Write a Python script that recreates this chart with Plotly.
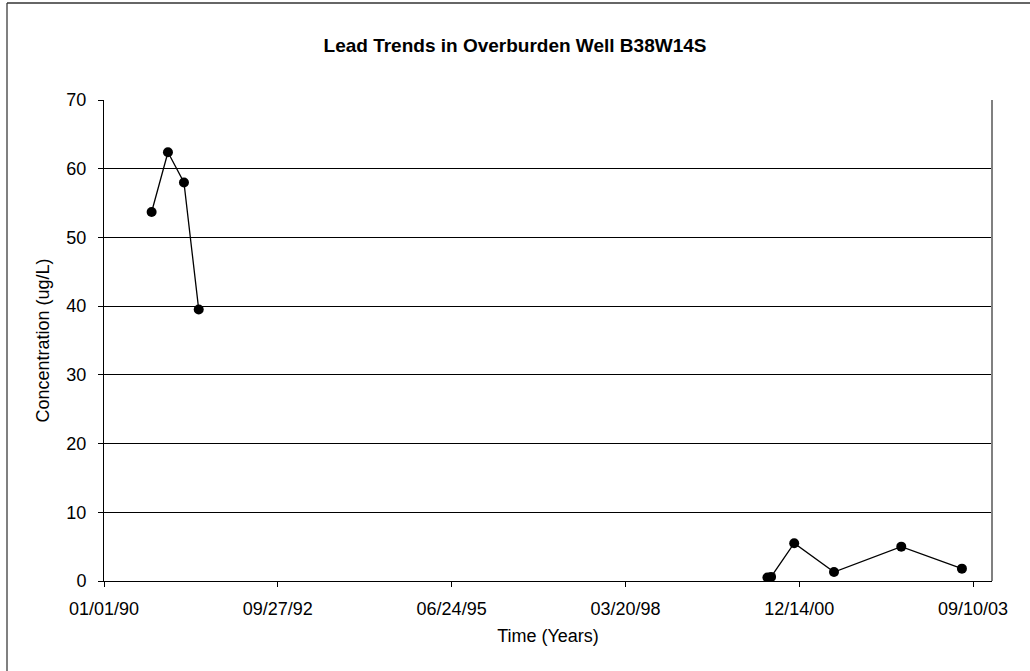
import plotly.graph_objects as go

# sample dates and lead concentrations (ug/L)
dates = ["1990-10-02", "1991-01-04", "1991-04-06", "1991-06-30",
         "2000-06-14", "2000-07-05", "2000-11-15", "2001-07-02",
         "2002-07-24", "2003-07-08"]
lead = [53.7, 62.4, 58.0, 39.5, 0.5, 0.6, 5.5, 1.3, 5.0, 1.8]

# gap between the two sampling periods is not connected
seg1_x, seg1_y = dates[:4], lead[:4]
seg2_x, seg2_y = dates[4:], lead[4:]

tick_vals = ["1990-01-01", "1992-09-27", "1995-06-24", "1998-03-20",
             "2000-12-14", "2003-09-10"]
tick_text = ["01/01/90", "09/27/92", "06/24/95", "03/20/98", "12/14/00", "09/10/03"]

font = "Liberation Sans, Arial, sans-serif"
style = dict(mode="lines+markers", line=dict(color="black", width=1.3),
             marker=dict(color="black", size=10), showlegend=False)

fig = go.Figure()
fig.add_trace(go.Scatter(x=seg1_x, y=seg1_y, **style))
fig.add_trace(go.Scatter(x=seg2_x, y=seg2_y, **style))

fig.update_layout(
    width=1030, height=671,
    margin=dict(l=104, r=38, t=100, b=90),
    paper_bgcolor="white", plot_bgcolor="white",
    font=dict(family=font, size=18, color="black"),
    title=dict(text="<b>Lead Trends in Overburden Well B38W14S</b>",
               x=0.5, xanchor="center", y=1 - 45 / 671, yanchor="middle",
               font=dict(size=19)),
    xaxis=dict(type="date", range=["1990-01-01", "2003-12-28"],
               tickvals=tick_vals, ticktext=tick_text,
               ticks="outside", ticklen=5, tickcolor="black",
               ticklabelstandoff=6,
               showgrid=False, zeroline=False,
               showline=True, linecolor="black", linewidth=1,
               title=dict(text="Time (Years)", standoff=11, font=dict(size=18))),
    yaxis=dict(range=[0, 70], dtick=10, tickformat="d",
               ticks="outside", ticklen=5, tickcolor="black",
               ticklabelstandoff=8,
               showgrid=True, gridcolor="black", gridwidth=1,
               zeroline=False, showline=True, linecolor="black", linewidth=1,
               title=dict(text="Concentration (ug/L)", standoff=12, font=dict(size=18))),
    shapes=[
        # right edge of plot area
        dict(type="line", xref="paper", yref="paper", x0=1, x1=1, y0=0, y1=1,
             line=dict(color="gray", width=2)),
        # outer chart border (left and top edges visible)
        dict(type="line", xref="paper", yref="paper",
             x0=-97 / 888, x1=-97 / 888, y0=-0.3, y1=1 + 97 / 481,
             line=dict(color="gray", width=2)),
        dict(type="line", xref="paper", yref="paper",
             x0=-97 / 888, x1=1.2, y0=1 + 97 / 481, y1=1 + 97 / 481,
             line=dict(color="#333333", width=1.5)),
    ],
)

fig.write_html("out.html", config={"displayModeBar": False},
               post_script="document.body.style.margin='0';"
                           "document.body.style.overflow='hidden';")
